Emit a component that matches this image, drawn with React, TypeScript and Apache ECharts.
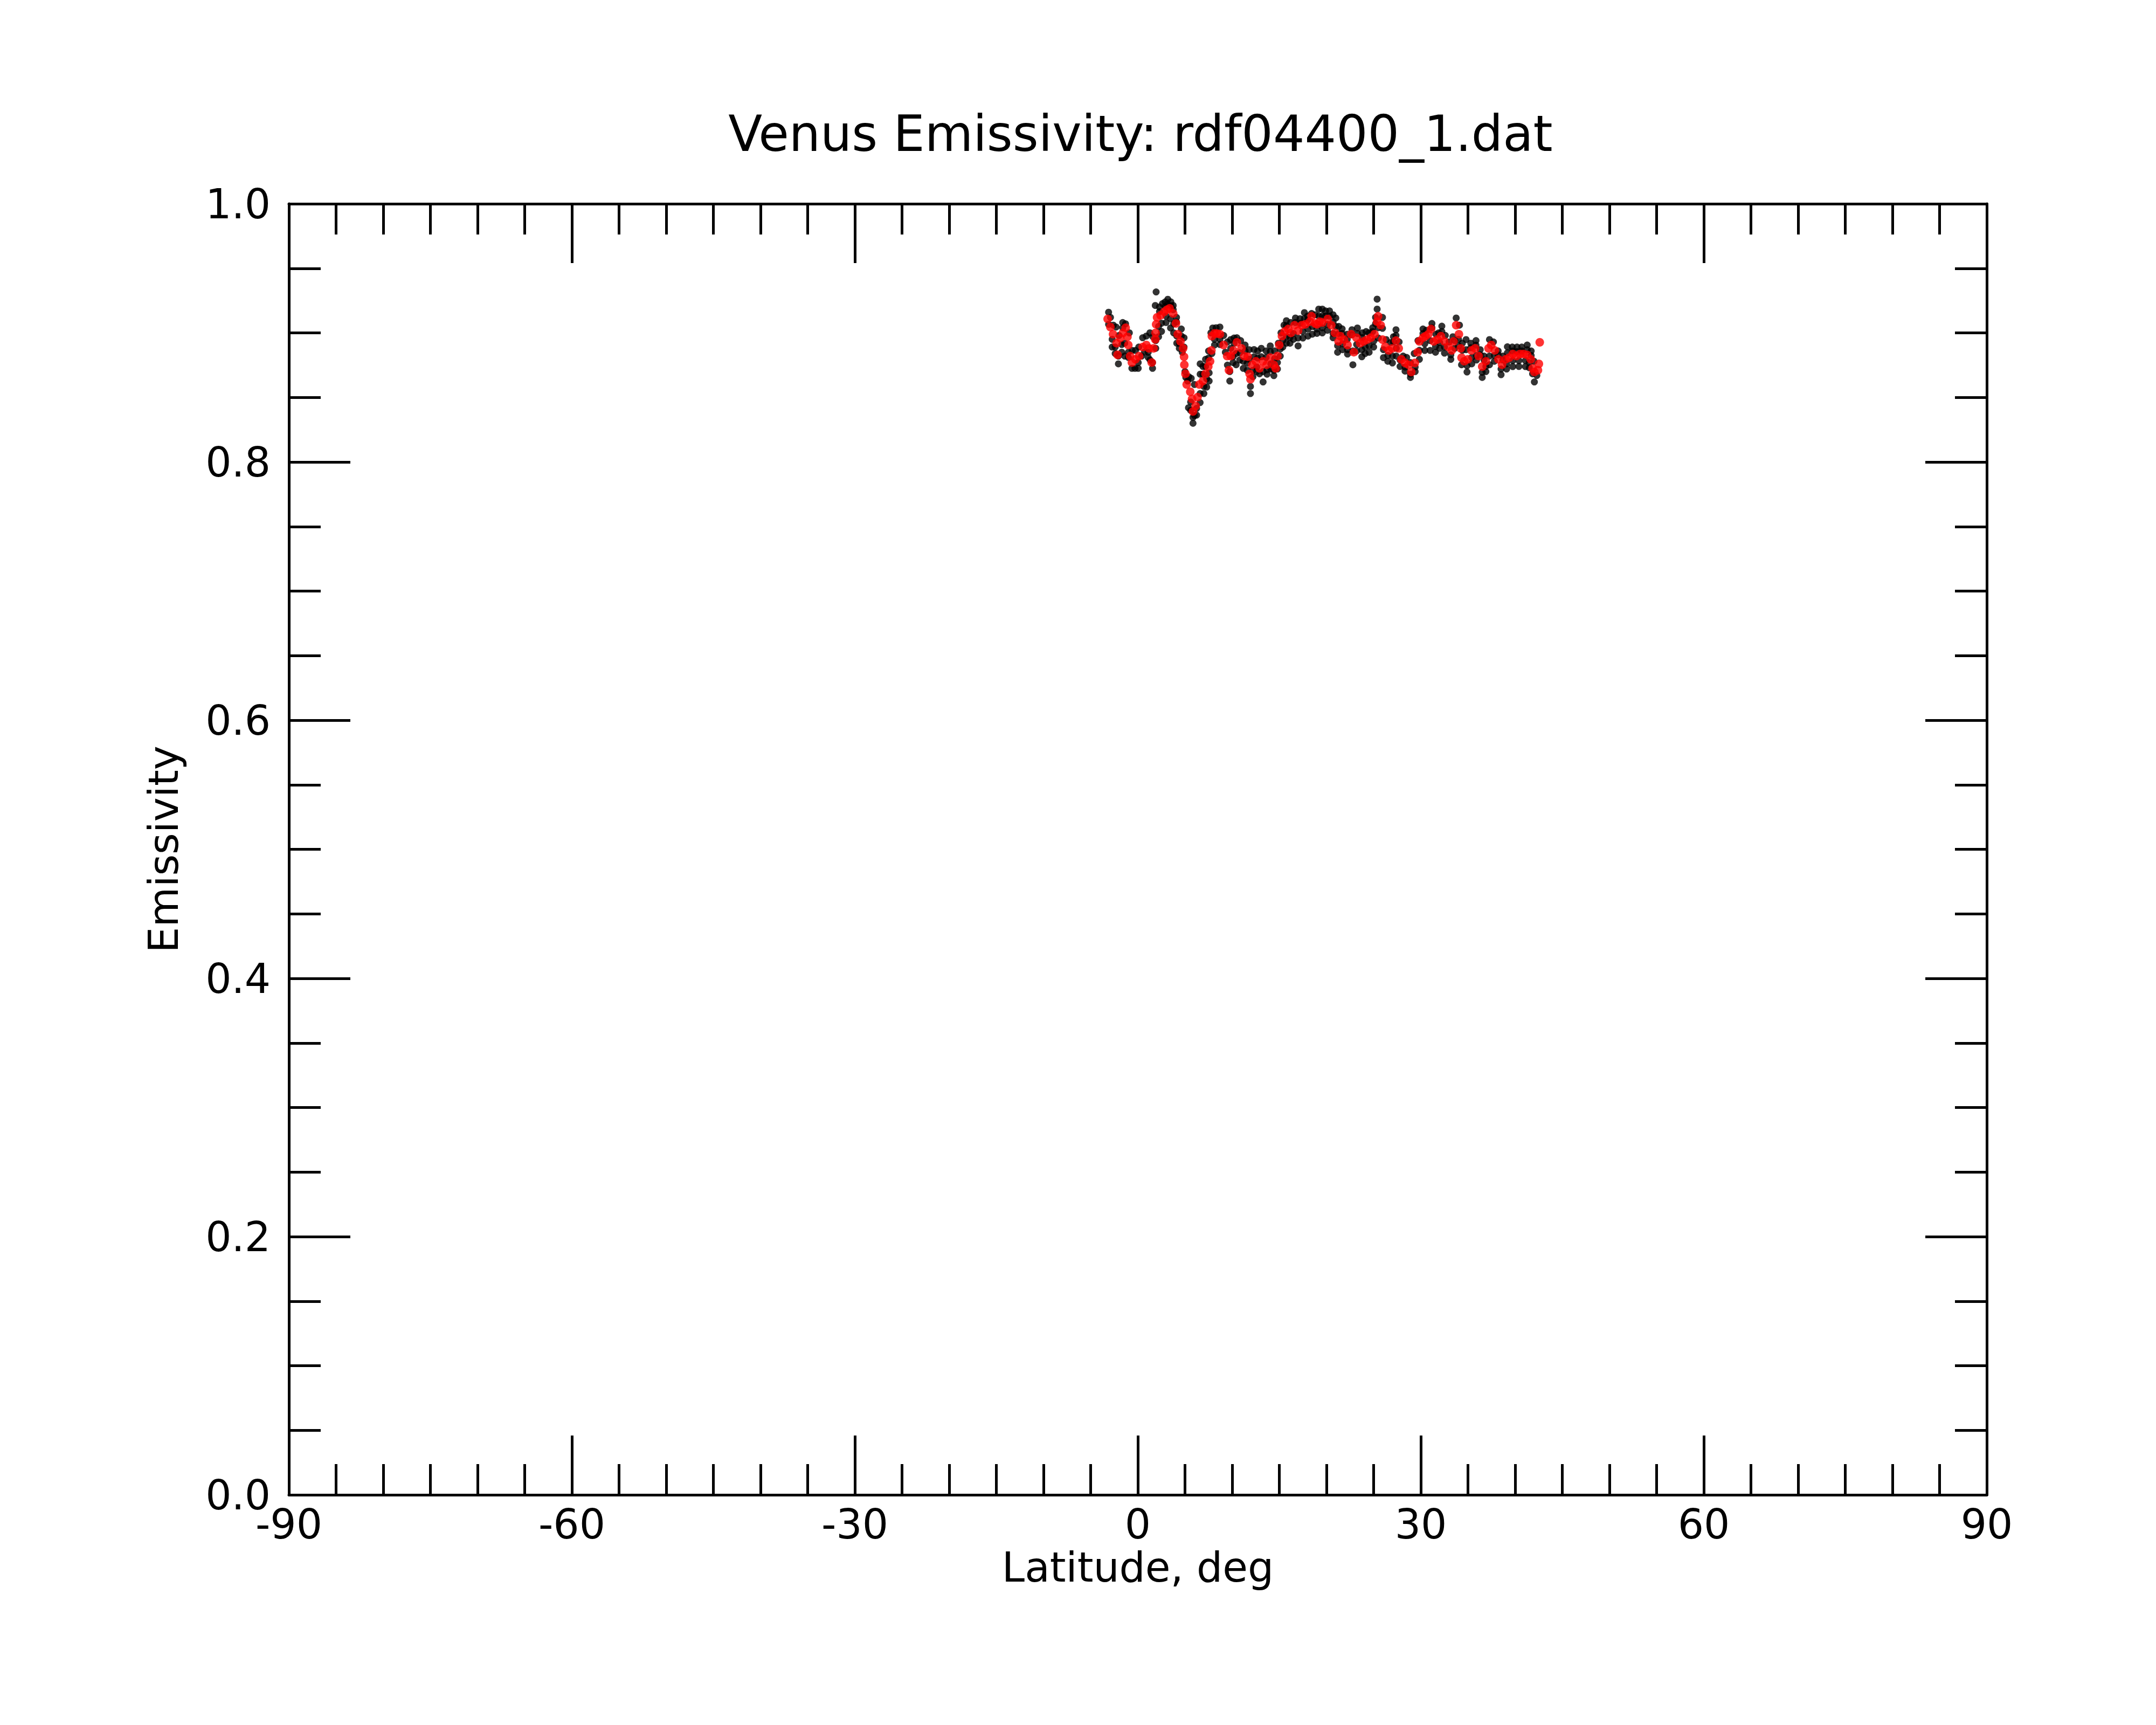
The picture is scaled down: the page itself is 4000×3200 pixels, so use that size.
import React, { useEffect, useRef } from "react";
import * as echarts from "echarts";

const TITLE = "Venus Emissivity: rdf04400_1.dat";
const X_NAME = "Latitude, deg";
const Y_NAME = "Emissivity";
const X_TICKS = [-90, -60, -30, 0, 30, 60, 90];
const Y_TICKS = [0.0, 0.2, 0.4, 0.6, 0.8, 1.0];

// black: raw measurements — upper edge of the band and outliers
const blackUpper: number[][] = [
  [-3.1, 0.916], [-2.9, 0.912], [-2.6, 0.906], [-2.3, 0.9045], [-2.0, 0.898], [-1.6, 0.908], [-1.3, 0.907],
  [-0.9, 0.9], [-0.6, 0.8864], [-0.25, 0.8864], [0.1, 0.889], [0.51, 0.8962], [0.9, 0.8975], [1.28, 0.9],
  [1.6, 0.897], [1.85, 0.9212], [1.94, 0.9317], [2.3, 0.92], [2.61, 0.9226], [2.9, 0.924], [3.18, 0.926],
  [3.5, 0.924], [3.75, 0.9212], [4.1, 0.912], [4.61, 0.903], [4.9, 0.8962], [5.09, 0.8655], [5.4, 0.866],
  [5.66, 0.8648], [6.0, 0.86], [6.61, 0.876], [6.9, 0.874], [7.18, 0.8795], [7.5, 0.886], [7.75, 0.9],
  [7.94, 0.9038], [8.3, 0.904], [8.7, 0.9045], [9.1, 0.898], [9.5, 0.893], [9.85, 0.8948], [10.2, 0.896],
  [10.5, 0.8962], [10.9, 0.894], [11.37, 0.8906], [11.8, 0.887], [12.32, 0.8871], [12.7, 0.886], [13.09, 0.888],
  [13.6, 0.886], [14.04, 0.8899], [14.5, 0.886], [14.9, 0.892], [15.18, 0.9], [15.5, 0.906], [15.75, 0.9094],
  [16.2, 0.908], [16.71, 0.9115], [17.2, 0.911], [17.66, 0.9157], [18.0, 0.913], [18.42, 0.915], [18.8, 0.914],
  [19.18, 0.9184], [19.56, 0.9184], [19.9, 0.917], [20.32, 0.917], [20.7, 0.914], [20.99, 0.9115], [21.3, 0.905],
  [21.66, 0.9031], [22.2, 0.899], [22.7, 0.9024], [23.28, 0.9038], [23.8, 0.9], [24.2, 0.901], [24.52, 0.9],
  [24.9, 0.904], [25.2, 0.912], [25.37, 0.9184], [25.37, 0.9261], [25.94, 0.912], [26.33, 0.8948], [26.8, 0.8925],
  [27.1, 0.897], [27.37, 0.9024], [27.7, 0.893], [28.13, 0.882], [28.5, 0.881], [28.9, 0.877], [29.3, 0.884],
  [29.7, 0.894], [30.23, 0.903], [30.6, 0.902], [31.18, 0.9073], [31.6, 0.899], [31.9, 0.9], [32.23, 0.9052],
  [32.6, 0.898], [33.0, 0.893], [33.4, 0.897], [33.75, 0.9115], [34.1, 0.906], [34.4, 0.892], [34.8, 0.8948],
  [35.3, 0.892], [35.85, 0.894], [36.3, 0.887], [36.7, 0.882], [37.28, 0.8948], [37.7, 0.893], [38.2, 0.886],
  [38.7, 0.882], [39.18, 0.8892], [39.7, 0.889], [40.2, 0.889], [40.7, 0.889], [41.28, 0.8906], [41.7, 0.886],
  [42.0, 0.878],
];

// black: lower edge of the band and outliers
const blackLower: number[][] = [
  [-3.1, 0.9066], [-2.72, 0.889], [-2.4, 0.884], [-2.06, 0.876], [-1.7, 0.885], [-1.39, 0.882], [-1.0, 0.881],
  [-0.63, 0.8725], [-0.3, 0.8725], [0.04, 0.8725], [0.4, 0.882], [0.7, 0.885], [1.1, 0.881], [1.3, 0.879],
  [1.56, 0.8725], [1.9, 0.888], [2.2, 0.897], [2.51, 0.9011], [2.99, 0.908], [3.47, 0.9038], [3.8, 0.9],
  [4.13, 0.892], [4.4, 0.888], [4.71, 0.885], [5.0, 0.87], [5.28, 0.8627], [5.37, 0.842], [5.6, 0.84],
  [5.85, 0.83], [6.0, 0.836], [6.23, 0.8363], [6.6, 0.846], [7.0, 0.853], [7.3, 0.858], [7.56, 0.8627],
  [7.85, 0.884], [8.13, 0.8906], [8.7, 0.891], [9.28, 0.885], [9.5, 0.875], [9.75, 0.8627], [10.1, 0.877],
  [10.42, 0.8753], [10.8, 0.879], [11.18, 0.8725], [11.6, 0.871], [11.94, 0.853], [12.2, 0.866], [12.6, 0.87],
  [12.9, 0.8683], [13.28, 0.862], [13.7, 0.868], [14.1, 0.872], [14.42, 0.8669], [14.8, 0.872], [15.1, 0.882],
  [15.37, 0.889], [15.75, 0.892], [16.13, 0.892], [16.5, 0.895], [16.99, 0.8899], [17.5, 0.896], [18.04, 0.8975],
  [18.5, 0.899], [18.99, 0.8996], [19.56, 0.9], [20.1, 0.902], [20.7, 0.8962], [21.18, 0.885], [21.7, 0.887],
  [22.23, 0.8836], [22.8, 0.8753], [23.2, 0.886], [23.75, 0.8815], [24.1, 0.884], [24.52, 0.885], [25.0, 0.889],
  [25.5, 0.896], [26.04, 0.8808], [26.5, 0.878], [26.99, 0.8767], [27.4, 0.882], [27.8, 0.874], [28.33, 0.8704],
  [28.9, 0.8655], [29.4, 0.87], [29.85, 0.8795], [30.42, 0.8864], [30.99, 0.8864], [31.56, 0.885], [32.0, 0.888],
  [32.51, 0.8843], [33.18, 0.8795], [33.6, 0.888], [34.0, 0.89], [34.32, 0.8753], [34.9, 0.8697], [35.4, 0.876],
  [35.9, 0.879], [36.51, 0.8655], [36.9, 0.87], [37.28, 0.8753], [37.8, 0.878], [38.51, 0.8676], [39.1, 0.872],
  [39.75, 0.8739], [40.4, 0.874], [41.09, 0.8739], [41.5, 0.873], [41.85, 0.8683], [42.04, 0.862], [42.3, 0.867],
];

// black: points inside the band, between the red curve and the edges
const blackInner: number[][] = [
  [-2.72, 0.895], [-2.4, 0.889], [-2.06, 0.882], [-1.7, 0.891], [-1.6, 0.904], [-1.39, 0.892], [-1.0, 0.885],
  [0.04, 0.877], [1.1, 0.885], [1.56, 0.877], [1.9, 0.894], [2.2, 0.905], [2.3, 0.9165], [2.51, 0.9075],
  [2.9, 0.9205], [2.99, 0.913], [3.18, 0.922], [3.47, 0.911], [3.5, 0.921], [3.75, 0.918], [3.8, 0.907],
  [4.1, 0.9085], [4.13, 0.8975], [4.4, 0.892], [4.61, 0.8975], [4.9, 0.889], [5.6, 0.8465], [5.85, 0.8345],
  [6.23, 0.8415], [6.6, 0.853], [6.61, 0.868], [6.9, 0.868], [7.0, 0.8585], [7.18, 0.874], [7.3, 0.8645],
  [7.5, 0.8805], [7.56, 0.869], [8.13, 0.895], [8.7, 0.895], [9.75, 0.87], [9.85, 0.888], [10.1, 0.8815],
  [10.2, 0.892], [10.42, 0.884], [10.8, 0.8845], [11.18, 0.878], [11.37, 0.886], [11.6, 0.8765], [11.8, 0.8795],
  [11.94, 0.8585], [12.2, 0.871], [12.32, 0.8815], [12.6, 0.8735], [12.7, 0.8805], [13.09, 0.8815], [13.28, 0.87],
  [13.6, 0.881], [13.7, 0.8715], [14.04, 0.8855], [14.1, 0.876], [14.42, 0.871], [14.5, 0.88], [14.8, 0.877],
  [15.1, 0.8875], [15.37, 0.894], [15.75, 0.897], [15.75, 0.9055], [16.13, 0.8965], [16.5, 0.8995], [16.71, 0.908],
  [16.99, 0.896], [17.2, 0.9075], [17.5, 0.901], [17.66, 0.911], [18.0, 0.91], [18.04, 0.903], [18.5, 0.905],
  [18.99, 0.903], [19.18, 0.913], [19.56, 0.904], [19.56, 0.913], [19.9, 0.913], [20.1, 0.9065], [20.32, 0.913],
  [20.7, 0.8995], [20.7, 0.9085], [20.99, 0.905], [21.18, 0.89], [21.3, 0.8995], [21.66, 0.8995], [21.7, 0.8915],
  [22.2, 0.895], [22.23, 0.887], [22.7, 0.8985], [22.8, 0.886], [23.2, 0.891], [23.28, 0.8995], [23.75, 0.887],
  [23.8, 0.8965], [24.1, 0.889], [24.52, 0.89], [24.9, 0.901], [25.0, 0.8935], [25.2, 0.907], [25.5, 0.904],
  [25.94, 0.9035], [26.04, 0.887], [26.5, 0.8825], [26.99, 0.882], [27.1, 0.893], [27.37, 0.898], [27.4, 0.888],
  [27.8, 0.879], [28.33, 0.8735], [28.9, 0.868], [29.4, 0.8735], [29.85, 0.8865], [30.23, 0.8995], [30.42, 0.8915],
  [30.99, 0.894], [31.18, 0.904], [31.56, 0.8895], [32.0, 0.8925], [32.23, 0.901], [32.51, 0.889], [33.18, 0.883],
  [33.6, 0.894], [34.0, 0.895], [34.4, 0.8865], [34.8, 0.887], [34.9, 0.8745], [35.3, 0.8885], [35.4, 0.881],
  [35.85, 0.8905], [35.9, 0.8825], [36.3, 0.883], [36.51, 0.8695], [36.7, 0.879], [36.9, 0.874], [37.28, 0.882],
  [37.8, 0.8825], [38.2, 0.883], [38.51, 0.872], [38.7, 0.879], [39.1, 0.876], [39.18, 0.8845], [39.7, 0.886],
  [39.75, 0.8785], [40.2, 0.8855], [40.4, 0.8785], [40.7, 0.886], [41.09, 0.8785], [41.28, 0.887], [41.5, 0.877],
  [41.7, 0.8825],
];

// red: smoothed values
const redSmooth: number[][] = [
  [-3.2, 0.9108], [-2.91, 0.9045], [-2.63, 0.899], [-2.25, 0.892], [-2.15, 0.883], [-1.87, 0.896], [-1.58, 0.9],
  [-1.29, 0.904], [-1.1, 0.897], [-1.01, 0.8906], [-0.82, 0.882], [-0.63, 0.877], [-0.25, 0.8795], [0.13, 0.882],
  [0.51, 0.889], [0.9, 0.8906], [1.18, 0.888], [1.47, 0.877], [1.66, 0.888], [1.85, 0.895], [1.88, 0.9],
  [1.94, 0.9066], [2.04, 0.912], [2.42, 0.9136], [2.8, 0.9163], [3.1, 0.918], [3.37, 0.919], [3.75, 0.915],
  [4.04, 0.9073], [4.23, 0.899], [4.52, 0.8934], [4.8, 0.888], [4.9, 0.8815], [4.93, 0.8753], [5.05, 0.8683],
  [5.18, 0.86], [5.56, 0.8544], [5.75, 0.8488], [5.85, 0.8391], [6.13, 0.8433], [6.33, 0.8502], [6.52, 0.86],
  [6.9, 0.8627], [7.18, 0.8683], [7.47, 0.874], [7.66, 0.878], [7.8, 0.8864], [7.85, 0.8975], [8.13, 0.8996],
  [8.4, 0.8995], [8.7, 0.899], [9.09, 0.8906], [9.47, 0.882], [9.66, 0.8711], [9.85, 0.882], [10.13, 0.8864],
  [10.5, 0.8927], [10.99, 0.888], [11.28, 0.882], [11.66, 0.8815], [11.85, 0.8683], [11.94, 0.8641], [12.13, 0.8753],
  [12.51, 0.878], [12.9, 0.8725], [13.28, 0.878], [13.66, 0.8753], [14.04, 0.8808], [14.42, 0.8753], [14.61, 0.8725],
  [14.8, 0.882], [14.99, 0.8906], [15.28, 0.8975], [15.56, 0.901], [15.94, 0.903], [16.23, 0.9], [16.61, 0.9059],
  [16.99, 0.9017], [17.37, 0.9059], [17.75, 0.9066], [18.23, 0.9087], [18.42, 0.9129], [18.8, 0.9073],
  [18.99, 0.9066], [19.28, 0.9087], [19.56, 0.908], [20.13, 0.9108], [20.51, 0.9059], [20.9, 0.9], [21.28, 0.8934],
  [21.47, 0.8975], [21.85, 0.8948], [22.23, 0.8906], [22.61, 0.899], [22.9, 0.885], [23.18, 0.8962], [23.56, 0.892],
  [23.94, 0.8934], [24.32, 0.8948], [24.7, 0.8962], [25.09, 0.899], [25.37, 0.9087], [25.47, 0.9129], [25.75, 0.9059],
  [25.94, 0.8948], [26.23, 0.8892], [26.61, 0.8864], [26.99, 0.888], [27.37, 0.894], [27.66, 0.888], [27.94, 0.8795],
  [28.33, 0.8767], [28.7, 0.8753], [28.99, 0.8697], [29.37, 0.8767], [29.66, 0.885], [29.85, 0.8934], [30.23, 0.8962],
  [30.5, 0.8975], [30.8, 0.899], [31.09, 0.903], [31.37, 0.8934], [31.75, 0.8948], [32.13, 0.8975], [32.51, 0.8934],
  [32.9, 0.8892], [33.28, 0.8864], [33.47, 0.8934], [33.75, 0.9059], [34.04, 0.899], [34.23, 0.888], [34.32, 0.8808],
  [34.61, 0.878], [34.99, 0.8795], [35.37, 0.8864], [35.75, 0.888], [36.13, 0.882], [36.51, 0.8739], [36.9, 0.878],
  [37.18, 0.888], [37.47, 0.8906], [37.85, 0.8864], [38.23, 0.8795], [38.61, 0.8753], [38.99, 0.8795], [39.37, 0.8808],
  [39.75, 0.8836], [40.13, 0.882], [40.52, 0.8836], [40.9, 0.8836], [41.28, 0.8829], [41.66, 0.8795], [41.85, 0.8725],
  [42.04, 0.8697], [42.42, 0.8711], [42.52, 0.876], [42.61, 0.8927],
];

const FONT = "DejaVu Sans";
const LW = 5;

function makeX(position: "bottom" | "top", showLabel: boolean) {
  return {
    type: "value",
    position,
    min: X_TICKS[0],
    max: X_TICKS[X_TICKS.length - 1],
    interval: X_TICKS[1] - X_TICKS[0],
    name: showLabel ? X_NAME : "",
    nameLocation: "middle",
    nameGap: 94,
    nameTextStyle: { fontFamily: FONT, fontSize: 76, color: "#000" },
    axisLine: { show: true, onZero: false, lineStyle: { color: "#000", width: LW } },
    axisTick: { show: true, inside: true, length: 110, lineStyle: { color: "#000", width: LW } },
    minorTick: { show: true, splitNumber: 6, length: 57, lineStyle: { color: "#000", width: LW } },
    axisLabel: { show: showLabel, fontFamily: FONT, fontSize: 76, color: "#000", margin: 16 },
    splitLine: { show: false },
    minorSplitLine: { show: false },
  };
}

function makeY(position: "left" | "right", showLabel: boolean) {
  return {
    type: "value",
    position,
    min: Y_TICKS[0],
    max: Y_TICKS[Y_TICKS.length - 1],
    interval: Y_TICKS[1] - Y_TICKS[0],
    name: showLabel ? Y_NAME : "",
    nameLocation: "middle",
    nameGap: 195,
    nameTextStyle: { fontFamily: FONT, fontSize: 76, color: "#000" },
    axisLine: { show: true, onZero: false, lineStyle: { color: "#000", width: LW } },
    axisTick: { show: true, inside: true, length: 114, lineStyle: { color: "#000", width: LW } },
    minorTick: { show: true, splitNumber: 4, length: 59, lineStyle: { color: "#000", width: LW } },
    axisLabel: {
      show: showLabel,
      fontFamily: FONT,
      fontSize: 76,
      color: "#000",
      margin: 34,
      formatter: (v: number) => v.toFixed(1),
    },
    splitLine: { show: false },
    minorSplitLine: { show: false },
  };
}

function blackSeries(name: string, data: number[][]) {
  return {
    type: "scatter",
    name,
    data,
    symbol: "circle",
    symbolSize: 13,
    itemStyle: { color: "#000" },
    xAxisIndex: 0,
    yAxisIndex: 0,
  };
}

export default function App() {
  const ref = useRef<HTMLDivElement>(null);
  useEffect(() => {
    document.body.style.margin = "0";
    if (!ref.current) return;
    const chart = echarts.init(ref.current, null, { renderer: "svg" });
    chart.setOption({
      animation: false,
      backgroundColor: "#fff",
      title: {
        text: TITLE,
        left: 2111,
        textAlign: "center",
        top: 197,
        textStyle: { fontFamily: FONT, fontSize: 92, fontWeight: "normal", color: "#000" },
      },
      grid: { left: 536, top: 378, width: 3150, height: 2395, containLabel: false },
      xAxis: [makeX("bottom", true), makeX("top", false)],
      yAxis: [makeY("left", true), makeY("right", false)],
      series: [
        blackSeries("raw-upper", blackUpper),
        blackSeries("raw-lower", blackLower),
        blackSeries("raw-inner", blackInner),
        {
          type: "scatter",
          name: "smooth",
          data: redSmooth,
          symbol: "circle",
          symbolSize: 16,
          itemStyle: { color: "#ff0000" },
          xAxisIndex: 0,
          yAxisIndex: 0,
        },
      ],
    });
    return () => chart.dispose();
  }, []);
  return <div ref={ref} style={{ width: 4000, height: 3200 }} />;
}
